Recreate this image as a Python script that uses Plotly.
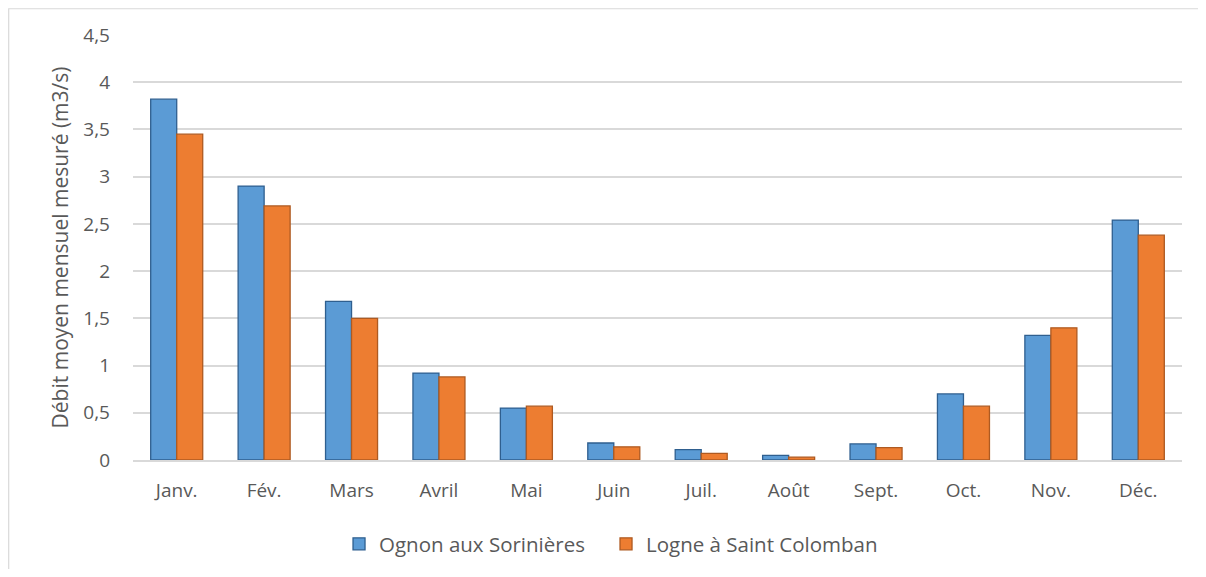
import plotly.graph_objects as go

months = ["Janv.", "Fév.", "Mars", "Avril", "Mai", "Juin", "Juil.", "Août", "Sept.", "Oct.", "Nov.", "Déc."]
ognon = [3.82, 2.90, 1.68, 0.92, 0.55, 0.18, 0.11, 0.05, 0.17, 0.70, 1.32, 2.54]
logne = [3.45, 2.69, 1.50, 0.88, 0.57, 0.14, 0.07, 0.03, 0.13, 0.57, 1.40, 2.38]
yticks = [0, 0.5, 1, 1.5, 2, 2.5, 3, 3.5, 4, 4.5]
yticklabels = ["0", "0,5", "1", "1,5", "2", "2,5", "3", "3,5", "4", "4,5"]

FONT = "Open Sans"
GREY = "#595959"

fig = go.Figure()
fig.add_trace(go.Bar(x=months, y=ognon, name="Ognon aux Sorinières",
                     marker=dict(color="#5B9BD5", line=dict(color="#2F5F8F", width=1.3))))
fig.add_trace(go.Bar(x=months, y=logne, name="Logne à Saint Colomban", legendwidth=270,
                     marker=dict(color="#ED7D31", line=dict(color="#AE5A21", width=1.3))))

fig.update_layout(
    width=1190, height=561,
    margin=dict(l=125, r=16, t=27, b=109, autoexpand=False),
    paper_bgcolor="white", plot_bgcolor="white",
    barmode="group", bargap=0.405, bargroupgap=0,
    font=dict(family=FONT, size=19, color=GREY),
    legend=dict(orientation="h", x=0.1964, xanchor="left", y=-0.1976, yanchor="middle",
                font=dict(family=FONT, size=20.5, color=GREY), itemwidth=30,
                entrywidth=222, entrywidthmode="pixels",
                traceorder="normal"),
    showlegend=True,
)
fig.update_xaxes(showgrid=False, showline=True, linecolor="#D9D9D9", linewidth=1.5,
                 ticks="", ticklabelstandoff=12, tickfont=dict(family=FONT, size=19, color=GREY))
fig.update_yaxes(range=[0, 4.5], tickvals=yticks, ticktext=yticklabels,
                 showgrid=True, gridcolor="#D9D9D9", gridwidth=1.5, zeroline=False,
                 showline=False, ticks="", ticklabelstandoff=22,
                 tickfont=dict(family=FONT, size=19, color=GREY),
                 title=dict(text="Débit moyen mensuel mesuré (m3/s)",
                            font=dict(family=FONT, size=21, color=GREY), standoff=8))

fig.add_shape(type="rect", xref="paper", yref="paper",
              x0=-0.1185, x1=1.05, y0=-0.35, y1=1.0618,
              line=dict(color="#D9D9D9", width=1.2), fillcolor="rgba(0,0,0,0)", layer="below")

fig.write_html("out.html")
